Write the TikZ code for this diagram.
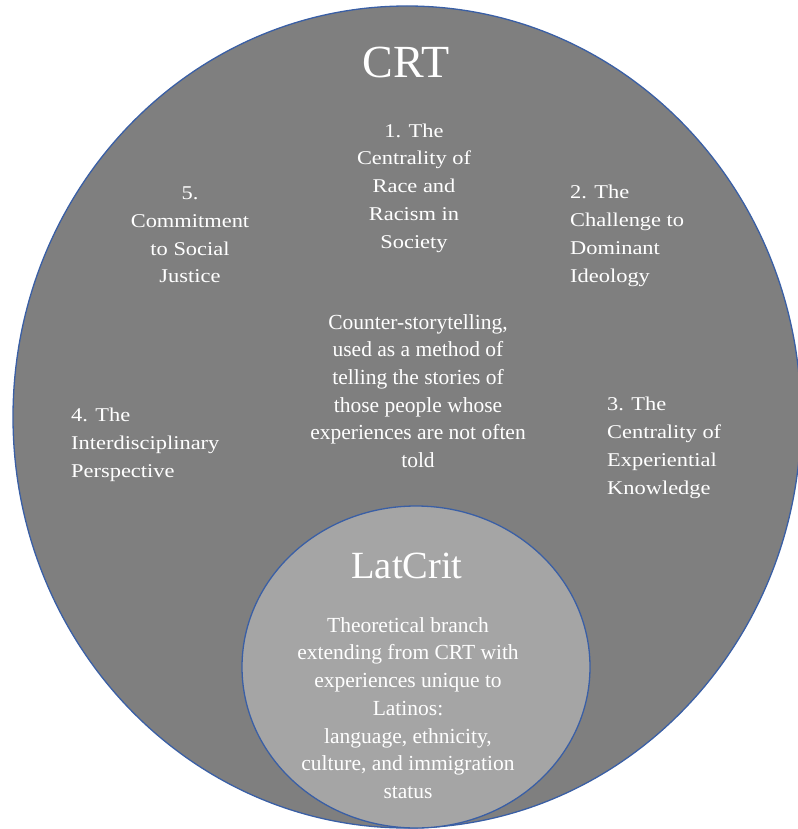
\documentclass[tikz,border=0pt]{standalone}
\usepackage{fontspec}
\setmainfont{Liberation Serif}
\newfontfamily\itemfont[FakeStretch=1.15]{Liberation Serif}
\definecolor{bigfill}{HTML}{7F7F7F}
\definecolor{smallfill}{HTML}{A5A5A5}
\definecolor{rimblue}{HTML}{3A5FA5}
\begin{document}
\begin{tikzpicture}[x=1pt,y=-1pt,
  rim/.style={draw=rimblue, line width=1.3pt},
  txt/.style={text=white, inner sep=0pt, font=\fontsize{21.5}{27.7}\selectfont},
  itemtxt/.style={text=white, inner sep=0pt, font=\itemfont\fontsize{19.5}{27.8}\selectfont},
  title/.style={text=white, inner sep=0pt}]
\useasboundingbox (0,0) rectangle (797,829);
\draw[rim, fill=bigfill] (407,417) ellipse [x radius=394pt, y radius=411pt];
\draw[rim, fill=smallfill] (416,667) ellipse [x radius=174pt, y radius=161pt];

\node[title, font=\fontsize{46}{50}\selectfont] (crt) at (406,62) {CRT};
\node[itemtxt, align=center] (i1) at (414,188) {1. The\\Centrality of\\Race and\\Racism in\\Society};
\node[itemtxt, align=left, anchor=west] (i2) at (570,236) {2. The\\Challenge to\\Dominant\\Ideology};
\node[itemtxt, align=left, anchor=west] (i3) at (607,448) {3. The\\Centrality of\\Experiential\\Knowledge};
\node[itemtxt, align=left, anchor=west] (i4) at (71,445) {4. The\\Interdisciplinary\\Perspective};
\node[itemtxt, align=center] (i5) at (190,235) {5.\\Commitment\\to Social\\Justice};
\node[txt, align=center] (cs) at (418,391) {Counter-storytelling,\\used as a method of\\telling the stories of\\those people whose\\experiences are not often\\told};
\node[title, font=\fontsize{38.5}{42}\selectfont] (lc) at (407,566) {LatCrit};
\node[txt, align=center] (lcb) at (408,708) {Theoretical branch\\extending from CRT with\\experiences unique to\\Latinos:\\ language, ethnicity,\\culture, and immigration\\status};
\end{tikzpicture}
\end{document}
